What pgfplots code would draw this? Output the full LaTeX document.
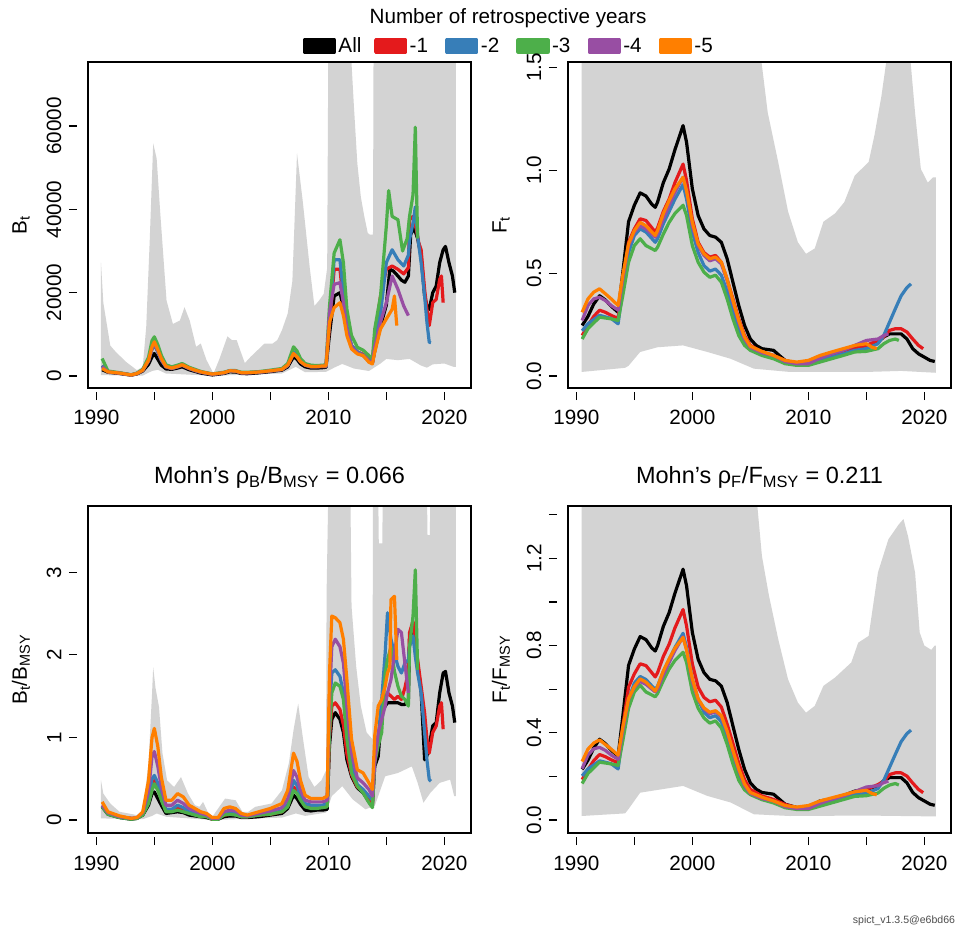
\documentclass[border=0pt]{standalone}
\usepackage{fontspec}
\setmainfont{Liberation Sans}
\usepackage{pgfplots}
\pgfplotsset{compat=1.18}

\definecolor{cAll}{HTML}{000000}
\definecolor{cA}{HTML}{E41A1C}
\definecolor{cB}{HTML}{377EB8}
\definecolor{cC}{HTML}{4DAF4A}
\definecolor{cD}{HTML}{984EA3}
\definecolor{cE}{HTML}{FF7F00}
\definecolor{band}{HTML}{D3D3D3}

\newcommand{\txt}{\fontsize{14.7}{17}\selectfont}

\pgfplotsset{
  retro/.style={
    scale only axis, width=95.75mm,
    xmin=1989.28, xmax=2022.30,
    axis on top,
    axis line style={line width=0.45mm},
    font=\txt,
    scaled x ticks=false, scaled y ticks=false,
    xtick={1990,1995,2000,2005,2010,2015,2020},
    xticklabels={1990,,2000,,2010,,2020},
    tick pos=left,
    tick align=outside,
    major tick length=2.1mm,
    tick style={black, line width=0.3mm},
    xtick style={yshift=-0.95mm},
    ytick style={xshift=-2.7mm},
    xticklabel style={yshift=-2.3mm},
    yticklabel style={rotate=90, anchor=south},
    yticklabel shift=3.3mm,
    ylabel style={at={(rel axis cs:-0.175,0.5)}, anchor=center},
    title style={at={(rel axis cs:0.5,1.043)}, anchor=base, font=\fontsize{16.7}{19}\selectfont},
  },
  ser/.style={line width=0.8mm, line join=round},
}

\begin{document}
\begin{tikzpicture}
\useasboundingbox (0,0) rectangle (240.5mm,232.5mm);

% ---------------- B_t ----------------
\begin{axis}[retro, at={(22mm,135.5mm)}, anchor=south west, height=81.5mm,
  ymin=-2880, ymax=75360,
  ytick={0,20000,40000,60000}, yticklabels={0,20000,40000,60000},
  ylabel={B\textsubscript{t}},
  legend columns=6,
  legend style={at={(rel axis cs:0.561,1.049)}, anchor=west, draw=none, fill=none,
    inner sep=0pt, outer sep=0pt, font=\txt,
    nodes={inner sep=0.6mm, anchor=west},
    /tikz/every even column/.append style={column sep=0mm}},
  legend image code/.code={\fill[#1] (0mm,-1.5mm) rectangle (7.5mm,1.5mm);},
]
\addplot[fill=band, draw=none, forget plot] coordinates {
(1990.4,27200) (1990.6,17600) (1991.2,7300) (1991.7,5700) (1992.6,3300) (1993.5,1400)
(1994,2200) (1994.3,11800) (1994.6,32400) (1994.9,55800) (1995.2,52200) (1995.5,39500)
(1996.05,18100) (1996.6,12500) (1997.2,13300) (1997.6,16500) (1998.05,13300) (1998.6,7000)
(1999,7800) (1999.5,3800) (2000.1,600) (2000.6,4000) (2001.3,9500) (2001.7,8600) (2002.1,8600)
(2002.4,6200) (2002.8,3100) (2003.3,4600) (2003.9,6200) (2004.5,7800) (2005.2,7800)
(2005.6,8600) (2006.0,11000) (2006.5,15000) (2006.9,22800) (2007.3,53400) (2007.8,41800)
(2008.4,25900) (2008.8,16800) (2009.2,18100) (2009.6,19700) (2009.9,25900) (2010.0,80000)
(2011.9,80000) (2012.2,65000) (2012.5,51000) (2012.8,43000) (2013.1,38300) (2013.4,34300)
(2013.6,33900) (2013.85,33900) (2013.9,80000) (2021,80000)
(2021,2200) (2020.8,2200) (2020,3000) (2019,2800) (2018.5,2000) (2018,2500) (2017,4100)
(2016,3800) (2015,4100) (2014.5,3000) (2013.5,1200) (2012.2,1800) (2011.2,2900) (2010.5,2000)
(2009.8,1000) (2008,900) (2007.2,2200) (2006,600) (2000,50) (1996,600) (1995.3,1500)
(1994.8,1200) (1994,100) (1990.4,200)};
\addplot[ser, color=cAll] coordinates {
(1990.5,1500) (1991,900) (1992,600) (1993,200) (1993.5,500) (1994,1200) (1994.5,2800)
(1994.8,4600) (1995,5400) (1995.3,4000) (1995.6,2600) (1996,1700) (1996.5,1600) (1997,1900)
(1997.4,2200) (1998,1500) (1998.5,1100) (1999,700) (2000,250) (2001,600) (2001.5,1000)
(2002,950) (2002.5,600) (2003,550) (2004,750) (2005,1050) (2006,1400) (2006.5,2200)
(2007,4600) (2007.3,4000) (2007.6,2900) (2008,2200) (2008.5,1900) (2009,1900) (2009.5,2000)
(2009.8,2100) (2010.1,10000) (2010.5,19200) (2011,20000) (2011.3,16500) (2011.6,10500)
(2012,7000) (2012.5,5500) (2013,5000) (2013.5,3600) (2013.8,3200) (2014,6000) (2014.5,12000)
(2015,17000) (2015.3,25600) (2015.6,25200) (2016,24000) (2016.3,23000) (2016.6,22500)
(2016.9,24000) (2017.1,34000) (2017.4,35500) (2017.7,33000) (2018,28700) (2018.3,19200)
(2018.5,16800) (2018.7,16000) (2019,20000) (2019.3,21600) (2019.6,27200) (2019.9,30300)
(2020.1,31100) (2020.4,27200) (2020.7,24000) (2020.9,20000)};
\addplot[ser, color=cA] coordinates {
(1990.5,2500) (1991,1000) (1992,700) (1993,250) (1993.5,600) (1994,1400) (1994.5,3600)
(1994.8,6500) (1995,7500) (1995.3,5800) (1995.6,3800) (1996,2200) (1996.5,1800) (1997,2200)
(1997.4,2600) (1998,1800) (1998.5,1300) (1999,900) (2000,400) (2001,750) (2001.5,1200)
(2002,1150) (2002.5,750) (2003,750) (2004,900) (2005,1200) (2006,1550) (2006.5,2500)
(2007,5800) (2007.3,5000) (2007.6,3500) (2008,2600) (2008.5,2200) (2009,2200) (2009.5,2300)
(2009.8,2300) (2010.1,12000) (2010.5,25600) (2011,25600) (2011.3,18000) (2011.6,11000)
(2012,7300) (2012.5,5800) (2013,5200) (2013.5,3800) (2013.8,3300) (2014,9500) (2014.5,19200)
(2015,25600) (2015.5,26400) (2016,25600) (2016.5,24500) (2016.9,26000) (2017,37500)
(2017.3,38300) (2017.6,35000) (2017.8,31900) (2018,30300) (2018.3,20800) (2018.5,16000)
(2018.7,12100) (2019,17600) (2019.3,18400) (2019.6,23200) (2019.75,24000) (2019.9,17600)};
\addplot[ser, color=cB] coordinates {
(1990.5,2500) (1991,1000) (1992,700) (1993,250) (1993.5,600) (1994,1400) (1994.5,3600)
(1994.8,6500) (1995,7500) (1995.3,5800) (1995.6,3800) (1996,2200) (1996.5,1800) (1997,2200)
(1997.4,2600) (1998,1800) (1998.5,1300) (1999,900) (2000,400) (2001,750) (2001.5,1200)
(2002,1150) (2002.5,750) (2003,750) (2004,900) (2005,1200) (2006,1550) (2006.5,2500)
(2007,5800) (2007.3,5000) (2007.6,3500) (2008,2600) (2008.5,2200) (2009,2200) (2009.5,2300)
(2009.8,2300) (2010.1,13000) (2010.5,27900) (2011,27900) (2011.3,20000) (2011.6,12000)
(2012,7300) (2012.5,5800) (2013,5000) (2013.5,3800) (2013.8,3300) (2014,9000) (2014.5,15000)
(2015,27200) (2015.5,30300) (2016,27900) (2016.5,26400) (2016.9,29000) (2017,32700)
(2017.3,36700) (2017.5,40600) (2017.7,33500) (2018,27200) (2018.3,19200) (2018.5,12900)
(2018.7,8100) (2018.85,8000)};
\addplot[ser, color=cC] coordinates {
(1990.5,4200) (1991,1200) (1992,800) (1993,300) (1993.5,700) (1994,1600) (1994.5,4500)
(1994.8,8500) (1995,9400) (1995.3,7500) (1995.6,5000) (1996,2700) (1996.5,2200) (1997,2600)
(1997.4,3000) (1998,2100) (1998.5,1600) (1999,1100) (2000,500) (2001,900) (2001.5,1300)
(2002,1300) (2002.5,900) (2003,900) (2004,1050) (2005,1400) (2006,1800) (2006.5,3000)
(2007,7000) (2007.3,6000) (2007.6,4200) (2008,3000) (2008.5,2600) (2009,2500) (2009.5,2600)
(2009.8,2700) (2010.1,16800) (2010.5,29500) (2011,32700) (2011.3,27200) (2011.6,16000)
(2012,9700) (2012.5,6900) (2013,6200) (2013.5,4900) (2013.8,4100) (2014,11300) (2014.5,19200)
(2015,36000) (2015.2,44500) (2015.5,38300) (2016,37500) (2016.4,30000) (2016.8,33000)
(2017,38300) (2017.3,43500) (2017.5,59700) (2017.6,45000) (2017.7,33000)};
\addplot[ser, color=cD] coordinates {
(1990.5,2200) (1991,1000) (1992,700) (1993,250) (1993.5,600) (1994,1400) (1994.5,3700)
(1994.8,6800) (1995,7900) (1995.3,6100) (1995.6,4000) (1996,2250) (1996.5,1850) (1997,2250)
(1997.4,2650) (1998,1850) (1998.5,1350) (1999,950) (2000,420) (2001,780) (2001.5,1250)
(2002,1200) (2002.5,780) (2003,780) (2004,930) (2005,1230) (2006,1580) (2006.5,2600)
(2007,5300) (2007.3,4600) (2007.6,3400) (2008,2600) (2008.5,2250) (2009,2250) (2009.5,2350)
(2009.8,2350) (2010.1,15200) (2010.5,22000) (2011,22400) (2011.3,17600) (2011.6,11300)
(2012,7000) (2012.5,5500) (2013,4900) (2013.5,3600) (2013.8,3100) (2014,7000) (2014.5,12900)
(2015,17600) (2015.5,24000) (2016,20800) (2016.5,16800) (2016.9,14500)};
\addplot[ser, color=cE] coordinates {
(1990.5,1800) (1991,1000) (1992,700) (1993,250) (1993.5,600) (1994,1400) (1994.5,3800)
(1994.8,7000) (1995,8200) (1995.3,6300) (1995.6,4200) (1996,2300) (1996.5,1900) (1997,2300)
(1997.4,2700) (1998,1900) (1998.5,1400) (1999,1000) (2000,450) (2001,800) (2001.5,1250)
(2002,1200) (2002.5,800) (2003,800) (2004,950) (2005,1250) (2006,1600) (2006.5,2650)
(2007,5400) (2007.3,4600) (2007.6,3450) (2008,2650) (2008.5,2300) (2009,2300) (2009.5,2400)
(2009.8,2400) (2010.1,12900) (2010.5,16400) (2011,17600) (2011.3,14500) (2011.6,9700)
(2012,6500) (2012.5,5300) (2013,4900) (2013.5,3300) (2013.8,2900) (2014,5700) (2014.5,11300)
(2015,13700) (2015.5,16000) (2015.7,19200) (2015.9,12100)};
\legend{\makebox[8.3mm][l]{All},\makebox[8.3mm][l]{-1},\makebox[8.3mm][l]{-2},
        \makebox[8.3mm][l]{-3},\makebox[8.3mm][l]{-4},\makebox[8.3mm][l]{-5}}
\draw[line width=0.3mm] ([yshift=-0.95mm]rel axis cs:0.0218,0) -- ([yshift=-0.95mm]rel axis cs:0.9303,0);
\draw[line width=0.3mm] ([xshift=-2.7mm]rel axis cs:0,0.0368) -- ([xshift=-2.7mm]rel axis cs:0,0.8037);
\end{axis}

% ---------------- F_t ----------------
\begin{axis}[retro, at={(142mm,135.5mm)}, anchor=south west, height=81.5mm,
  ymin=-0.058, ymax=1.526,
  ytick={0,0.5,1,1.5}, yticklabels={0.0,0.5,1.0,1.5},
  ylabel={F\textsubscript{t}},
]
\addplot[fill=band, draw=none] coordinates {
(1990.45,1.6) (2005.8,1.6) (2006.5,1.28) (2007.4,1.04) (2008.25,0.80) (2009.1,0.65)
(2009.8,0.594) (2010.55,0.62) (2011.3,0.75) (2012.3,0.79) (2013.1,0.845) (2014,0.974)
(2015.2,1.04) (2015.7,1.17) (2016.3,1.36) (2016.9,1.6) (2018.7,1.6) (2019.2,1.28)
(2019.7,1.006) (2020.3,0.94) (2020.75,0.966) (2021.0,0.966)
(2021,0.016) (2018,0.025) (2015,0.02) (2008.4,0.02) (2005.3,0.036) (2003.3,0.084)
(2001.3,0.117) (1999.2,0.149) (1997,0.14) (1995.5,0.117) (1994.5,0.05) (1994.2,0.04)
(1990.45,0.02)};
\addplot[ser, color=cAll] coordinates {
(1990.5,0.246) (1991,0.29) (1991.5,0.35) (1992,0.39) (1992.5,0.37) (1993,0.34) (1993.6,0.31)
(1994,0.50) (1994.5,0.75) (1995,0.83) (1995.5,0.89) (1996,0.875) (1996.5,0.835) (1996.8,0.82)
(1997,0.845) (1997.5,0.94) (1998,1.006) (1998.5,1.10) (1999.2,1.217) (1999.5,1.136)
(2000,0.91) (2000.5,0.78) (2001,0.715) (2001.5,0.683) (2002,0.675) (2002.5,0.65) (2003,0.57)
(2003.5,0.456) (2004,0.343) (2004.5,0.246) (2005,0.18) (2005.5,0.149) (2006,0.133)
(2007,0.125) (2007.5,0.10) (2008,0.076) (2009,0.06) (2010,0.06) (2011,0.092) (2012,0.10)
(2013,0.117) (2014,0.14) (2015,0.149) (2016,0.165) (2016.5,0.19) (2017,0.205) (2018,0.205)
(2018.5,0.18) (2019,0.133) (2019.5,0.108) (2020,0.092) (2020.5,0.076) (2020.9,0.071)};
\addplot[ser, color=cA] coordinates {
(1990.5,0.197) (1991,0.246) (1991.5,0.29) (1992,0.32) (1992.5,0.31) (1993,0.295) (1993.6,0.28)
(1994,0.456) (1994.5,0.65) (1995,0.715) (1995.5,0.764) (1996,0.756) (1996.8,0.70) (1997,0.72)
(1997.5,0.80) (1998,0.86) (1998.5,0.94) (1999.2,1.03) (1999.5,0.95) (2000,0.764) (2000.5,0.65)
(2001,0.60) (2001.5,0.578) (2002,0.586) (2002.5,0.553) (2003,0.47) (2003.5,0.375) (2004,0.278)
(2004.5,0.197) (2005,0.149) (2006,0.117) (2007,0.10) (2008,0.076) (2009,0.06) (2010,0.06)
(2011,0.084) (2012,0.10) (2013,0.117) (2014,0.133) (2015,0.149) (2016,0.173) (2016.5,0.19)
(2017,0.222) (2017.5,0.23) (2018,0.23) (2018.5,0.214) (2019,0.18) (2019.5,0.149) (2019.9,0.133)};
\addplot[ser, color=cB] coordinates {
(1990.5,0.22) (1991,0.254) (1992,0.295) (1993,0.28) (1993.6,0.254) (1994,0.424) (1994.5,0.60)
(1995,0.683) (1995.5,0.715) (1996,0.70) (1996.8,0.65) (1997,0.667) (1997.5,0.74) (1998,0.80)
(1998.5,0.86) (1999.2,0.93) (1999.5,0.86) (2000,0.70) (2000.5,0.60) (2001,0.537) (2001.5,0.51)
(2002,0.52) (2002.5,0.49) (2003,0.41) (2003.5,0.31) (2004,0.23) (2004.5,0.165) (2005,0.133)
(2006,0.108) (2007,0.092) (2008,0.068) (2009,0.06) (2010,0.06) (2011,0.076) (2012,0.092)
(2013,0.108) (2014,0.125) (2015,0.133) (2016,0.157) (2016.5,0.197) (2017,0.262) (2017.5,0.327)
(2018,0.39) (2018.5,0.43) (2018.85,0.448)};
\addplot[ser, color=cC] coordinates {
(1990.5,0.18) (1991,0.23) (1992,0.286) (1993,0.278) (1993.6,0.27) (1994,0.39) (1994.5,0.553)
(1995,0.634) (1995.5,0.667) (1996,0.634) (1996.8,0.61) (1997,0.626) (1997.5,0.69) (1998,0.747)
(1998.5,0.79) (1999.2,0.83) (1999.5,0.78) (2000,0.634) (2000.5,0.553) (2001,0.505) (2001.5,0.48)
(2002,0.49) (2002.5,0.456) (2003,0.375) (2003.5,0.278) (2004,0.197) (2004.5,0.149) (2005,0.125)
(2006,0.10) (2007,0.084) (2008,0.06) (2009,0.052) (2010,0.052) (2011,0.068) (2012,0.084)
(2013,0.10) (2014,0.117) (2015,0.12) (2016,0.133) (2016.5,0.157) (2017,0.173) (2017.5,0.18)
(2017.8,0.173)};
\addplot[ser, color=cD] coordinates {
(1990.5,0.27) (1991,0.343) (1991.5,0.375) (1992,0.383) (1992.5,0.367) (1993,0.343) (1993.6,0.32)
(1994,0.47) (1994.5,0.634) (1995,0.70) (1995.5,0.73) (1996,0.715) (1996.8,0.675) (1997,0.69)
(1997.5,0.764) (1998,0.83) (1998.5,0.893) (1999.2,0.966) (1999.5,0.90) (2000,0.73) (2000.5,0.634)
(2001,0.586) (2001.5,0.56) (2002,0.57) (2002.5,0.545) (2003,0.464) (2003.5,0.36) (2004,0.262)
(2004.5,0.18) (2005,0.14) (2006,0.113) (2007,0.10) (2008,0.07) (2009,0.06) (2010,0.06)
(2011,0.087) (2012,0.108) (2013,0.125) (2014,0.149) (2015,0.173) (2016,0.18) (2016.5,0.197)
(2016.9,0.205)};
\addplot[ser, color=cE] coordinates {
(1990.5,0.31) (1991,0.375) (1991.5,0.408) (1992,0.424) (1992.5,0.40) (1993,0.375) (1993.6,0.343)
(1994,0.49) (1994.5,0.642) (1995,0.707) (1995.5,0.747) (1996,0.73) (1996.8,0.683) (1997,0.707)
(1997.5,0.79) (1998,0.853) (1998.5,0.91) (1999.2,0.966) (1999.5,0.90) (2000,0.747) (2000.5,0.642)
(2001,0.594) (2001.5,0.57) (2002,0.578) (2002.5,0.553) (2003,0.47) (2003.5,0.367) (2004,0.27)
(2004.5,0.19) (2005,0.145) (2006,0.12) (2007,0.10) (2008,0.076) (2009,0.068) (2010,0.076)
(2011,0.10) (2012,0.117) (2013,0.133) (2014,0.149) (2015,0.157) (2015.5,0.14) (2015.9,0.133)};
\draw[line width=0.3mm] ([yshift=-0.95mm]rel axis cs:0.0218,0) -- ([yshift=-0.95mm]rel axis cs:0.9303,0);
\draw[line width=0.3mm] ([xshift=-2.7mm]rel axis cs:0,0.0366) -- ([xshift=-2.7mm]rel axis cs:0,0.9836);
\end{axis}

% ---------------- B_t / B_MSY ----------------
\begin{axis}[retro, at={(22mm,24.25mm)}, anchor=south west, height=81.75mm,
  ymin=-0.157, ymax=3.803,
  ytick={0,1,2,3}, yticklabels={0,1,2,3},
  ylabel={B\textsubscript{t}/B\textsubscript{MSY}},
  title={Mohn's ρ\textsubscript{B}/B\textsubscript{MSY} = 0.066},
]
\addplot[fill=band, draw=none] coordinates {
(1990.4,0.48) (1990.6,0.32) (1991.2,0.20) (1992,0.10) (1993.5,0.06) (1994,0.12) (1994.5,0.69)
(1994.8,1.53) (1994.9,1.85) (1995.1,1.60) (1995.4,1.37) (1995.7,0.81) (1996.1,0.48)
(1996.7,0.40) (1997.3,0.52) (1997.9,0.32) (1998.5,0.18) (1998.9,0.16) (1999.2,0.22)
(1999.6,0.10) (2000,0.04) (2001.1,0.26) (2002,0.24) (2002.6,0.10) (2003.1,0.10) (2003.7,0.16)
(2005.1,0.20) (2006,0.36) (2006.6,0.69) (2007,1.09) (2007.4,1.41) (2007.8,1.0) (2008.3,0.52)
(2008.8,0.40) (2009.4,0.48) (2009.8,0.60) (2009.85,2.75) (2010.0,4.0) (2011.9,4.0)
(2012.0,2.59) (2012.4,1.86) (2012.8,1.38) (2013.3,1.06) (2013.8,0.98) (2013.85,4.0)
(2014.3,4.0) (2014.35,3.35) (2014.65,3.35) (2014.7,4.0) (2018.5,4.0) (2018.55,3.45)
(2018.75,3.45) (2018.8,4.0) (2021.0,4.0)
(2021.0,0.29) (2020.85,0.29) (2020.5,0.49) (2019.6,0.45) (2018.8,0.33) (2018.2,0.21)
(2017.7,0.45) (2017.2,0.65) (2016,0.57) (2014.9,0.53) (2014,0.17) (2013.2,0.13) (2012.1,0.25)
(2011.2,0.41) (2010.3,0.29) (2009.8,0.09) (2008,0.05) (2007.2,0.08) (2006,0.03) (2000,0.0)
(1996,0.04) (1995.2,0.08) (1994.8,0.05) (1994,0.01) (1990.4,0.02)};
\addplot[ser, color=cAll] coordinates {
(1990.5,0.16) (1991,0.07) (1992,0.03) (1993,0.01) (1993.5,0.02) (1994,0.06) (1994.5,0.18)
(1994.8,0.32) (1995,0.34) (1995.3,0.26) (1995.6,0.18) (1996,0.08) (1996.5,0.09) (1997,0.10)
(1997.5,0.09) (1998,0.06) (1998.5,0.05) (1999,0.04) (1999.5,0.03) (2000,0.01) (2000.5,0.01)
(2001,0.04) (2001.5,0.05) (2002,0.05) (2002.5,0.03) (2003,0.03) (2004,0.04) (2005,0.06)
(2006,0.08) (2006.5,0.14) (2007,0.30) (2007.3,0.26) (2007.6,0.19) (2008,0.12) (2008.5,0.11)
(2009,0.12) (2009.5,0.12) (2009.9,0.13) (2010.1,0.90) (2010.3,1.22) (2010.6,1.30) (2011,1.22)
(2011.3,1.06) (2011.6,0.73) (2012,0.53) (2012.5,0.39) (2013,0.33) (2013.5,0.22) (2013.8,0.18)
(2014,0.65) (2014.3,0.77) (2014.6,1.30) (2014.9,1.38) (2015.1,1.42) (2015.7,1.42) (2016,1.42)
(2016.3,1.40) (2016.6,1.40) (2016.9,1.45) (2017,2.19) (2017.3,2.30) (2017.6,2.0) (2018,1.55)
(2018.3,0.73) (2018.5,0.78) (2018.7,0.90) (2019,1.14) (2019.3,1.18) (2019.6,1.54) (2019.9,1.78)
(2020.1,1.80) (2020.4,1.54) (2020.7,1.38) (2020.9,1.18)};
\addplot[ser, color=cA] coordinates {
(1990.5,0.17) (1991,0.08) (1992,0.04) (1993,0.02) (1993.5,0.02) (1994,0.07) (1994.5,0.22)
(1994.8,0.42) (1995,0.48) (1995.3,0.40) (1995.6,0.26) (1996,0.11) (1996.5,0.11) (1997,0.15)
(1997.5,0.12) (1998,0.09) (1998.5,0.07) (1999,0.05) (1999.5,0.05) (2000,0.01) (2000.5,0.02)
(2001,0.06) (2001.5,0.07) (2002,0.07) (2002.5,0.04) (2003,0.04) (2004,0.06) (2005,0.07)
(2006,0.10) (2006.5,0.17) (2007,0.40) (2007.3,0.36) (2007.6,0.26) (2008,0.17) (2008.5,0.15)
(2009,0.15) (2009.5,0.16) (2009.9,0.17) (2010.1,1.0) (2010.3,1.38) (2010.6,1.42) (2011,1.34)
(2011.3,1.15) (2011.6,0.80) (2012,0.55) (2012.5,0.40) (2013,0.35) (2013.5,0.25) (2013.8,0.20)
(2014,0.80) (2014.3,0.95) (2014.6,1.38) (2014.9,1.46) (2015.1,1.54) (2015.4,1.50) (2015.7,1.46)
(2016,1.50) (2016.3,1.46) (2016.6,1.60) (2016.9,1.80) (2017,2.27) (2017.3,2.41) (2017.5,2.15)
(2017.7,1.94) (2018,1.62) (2018.3,1.30) (2018.5,0.98) (2018.7,0.81) (2019,1.06) (2019.3,1.14)
(2019.6,1.38) (2019.75,1.42) (2019.9,1.10)};
\addplot[ser, color=cB] coordinates {
(1990.5,0.17) (1991,0.08) (1992,0.04) (1993,0.02) (1993.5,0.02) (1994,0.08) (1994.5,0.25)
(1994.8,0.50) (1995,0.54) (1995.3,0.45) (1995.6,0.28) (1996,0.13) (1996.5,0.13) (1997,0.18)
(1997.5,0.15) (1998,0.10) (1998.5,0.08) (1999,0.06) (1999.5,0.05) (2000,0.02) (2000.5,0.02)
(2001,0.07) (2001.5,0.08) (2002,0.08) (2002.5,0.04) (2003,0.04) (2004,0.06) (2005,0.08)
(2006,0.11) (2006.5,0.19) (2007,0.48) (2007.3,0.42) (2007.6,0.28) (2008,0.20) (2008.5,0.18)
(2009,0.18) (2009.5,0.18) (2009.9,0.20) (2010.1,1.30) (2010.3,1.78) (2010.6,1.82) (2011,1.74)
(2011.3,1.54) (2011.6,1.06) (2012,0.65) (2012.5,0.43) (2013,0.37) (2013.5,0.29) (2013.8,0.24)
(2014,0.81) (2014.3,0.98) (2014.6,1.46) (2014.9,2.02) (2015.1,2.51) (2015.4,2.19) (2015.7,2.02)
(2016,1.86) (2016.3,1.78) (2016.6,1.90) (2016.9,1.94) (2017,2.10) (2017.3,2.23) (2017.5,1.98)
(2017.7,1.78) (2018,1.54) (2018.3,1.06) (2018.5,0.73) (2018.7,0.49) (2018.85,0.47)};
\addplot[ser, color=cC] coordinates {
(1990.5,0.16) (1991,0.07) (1992,0.03) (1993,0.01) (1993.5,0.02) (1994,0.06) (1994.5,0.20)
(1994.8,0.36) (1995,0.44) (1995.3,0.36) (1995.6,0.24) (1996,0.10) (1996.5,0.10) (1997,0.12)
(1997.5,0.10) (1998,0.08) (1998.5,0.06) (1999,0.04) (1999.5,0.04) (2000,0.01) (2000.5,0.01)
(2001,0.06) (2001.5,0.07) (2002,0.06) (2002.5,0.04) (2003,0.04) (2004,0.06) (2005,0.07)
(2006,0.10) (2006.5,0.16) (2007,0.36) (2007.3,0.32) (2007.6,0.24) (2008,0.16) (2008.5,0.14)
(2009,0.14) (2009.5,0.15) (2009.9,0.16) (2010.1,1.06) (2010.3,1.54) (2010.6,1.66) (2011,1.62)
(2011.3,1.46) (2011.6,0.98) (2012,0.57) (2012.5,0.41) (2013,0.33) (2013.5,0.21) (2013.8,0.15)
(2014,0.69) (2014.3,0.90) (2014.6,1.06) (2014.9,1.78) (2015.1,1.94) (2015.4,2.10) (2015.7,1.80)
(2016,1.62) (2016.3,1.50) (2016.6,1.46) (2016.9,1.38) (2017,2.10) (2017.3,2.47) (2017.5,3.03)
(2017.6,2.40) (2017.7,1.82)};
\addplot[ser, color=cD] coordinates {
(1990.5,0.18) (1991,0.09) (1992,0.04) (1993,0.02) (1993.5,0.03) (1994,0.09) (1994.5,0.35)
(1994.8,0.77) (1995,0.83) (1995.3,0.65) (1995.6,0.40) (1996,0.18) (1996.5,0.18) (1997,0.24)
(1997.5,0.20) (1998,0.14) (1998.5,0.11) (1999,0.08) (1999.5,0.06) (2000,0.02) (2000.5,0.02)
(2001,0.10) (2001.5,0.12) (2002,0.11) (2002.5,0.06) (2003,0.05) (2004,0.08) (2005,0.11)
(2006,0.15) (2006.5,0.26) (2007,0.60) (2007.3,0.52) (2007.6,0.36) (2008,0.24) (2008.5,0.22)
(2009,0.22) (2009.5,0.22) (2009.9,0.24) (2010.1,1.46) (2010.3,2.10) (2010.6,2.19) (2011,2.10)
(2011.3,1.90) (2011.6,1.38) (2012,0.81) (2012.5,0.51) (2013,0.45) (2013.5,0.37) (2013.8,0.29)
(2014,0.69) (2014.3,1.06) (2014.6,1.22) (2014.9,1.38) (2015.1,1.54) (2015.4,1.70) (2015.7,2.02)
(2016,2.31) (2016.3,2.27) (2016.6,1.90) (2016.9,1.54)};
\addplot[ser, color=cE] coordinates {
(1990.5,0.22) (1991,0.10) (1992,0.05) (1993,0.02) (1993.5,0.03) (1994,0.10) (1994.5,0.48)
(1994.8,1.00) (1995,1.11) (1995.3,0.89) (1995.6,0.52) (1996,0.24) (1996.5,0.24) (1997,0.32)
(1997.5,0.28) (1998,0.18) (1998.5,0.14) (1999,0.10) (1999.5,0.08) (2000,0.03) (2000.5,0.03)
(2001,0.14) (2001.5,0.16) (2002,0.14) (2002.5,0.08) (2003,0.06) (2004,0.10) (2005,0.14)
(2006,0.20) (2006.5,0.36) (2007,0.81) (2007.3,0.71) (2007.6,0.48) (2008,0.30) (2008.5,0.26)
(2009,0.26) (2009.5,0.26) (2009.9,0.29) (2010.1,1.78) (2010.3,2.47) (2010.6,2.45) (2011,2.39)
(2011.3,2.19) (2011.6,1.70) (2012,0.98) (2012.5,0.61) (2013,0.57) (2013.5,0.45) (2013.8,0.37)
(2014,1.02) (2014.3,1.38) (2014.6,1.46) (2014.9,1.62) (2015.1,1.78) (2015.3,1.85) (2015.4,2.67)
(2015.7,2.71) (2015.9,1.94)};
\draw[line width=0.3mm] ([yshift=-0.95mm]rel axis cs:0.0218,0) -- ([yshift=-0.95mm]rel axis cs:0.9303,0);
\draw[line width=0.3mm] ([xshift=-2.7mm]rel axis cs:0,0.0396) -- ([xshift=-2.7mm]rel axis cs:0,0.7972);
\end{axis}

% ---------------- F_t / F_MSY ----------------
\begin{axis}[retro, at={(142mm,24.25mm)}, anchor=south west, height=81.75mm,
  ymin=-0.06, ymax=1.44,
  ytick={0,0.2,0.4,0.6,0.8,1.0,1.2,1.4}, yticklabels={0.0,,0.4,,0.8,,1.2,},
  ylabel={F\textsubscript{t}/F\textsubscript{MSY}},
  title={Mohn's ρ\textsubscript{F}/F\textsubscript{MSY} = 0.211},
]
\addplot[fill=band, draw=none] coordinates {
(1990.45,1.5) (2005.5,1.5) (2006.0,1.21) (2006.6,1.03) (2007.4,0.83) (2008.25,0.645)
(2009.1,0.538) (2009.8,0.492) (2010.55,0.523) (2011.3,0.615) (2012.3,0.653) (2013.7,0.722)
(2014.3,0.813) (2015.2,0.844) (2016.0,1.135) (2016.9,1.287) (2017.8,1.356) (2018.2,1.38)
(2018.6,1.30) (2019.2,1.135) (2019.6,0.86) (2020.0,0.80) (2020.6,0.78) (2020.9,0.80) (2021,0.80)
(2021,0.016) (2015,0.02) (2008.4,0.018) (2005.3,0.026) (2003.3,0.08) (2001.3,0.11)
(1999.2,0.156) (1995.5,0.125) (1994.5,0.05) (1994.2,0.03) (1990.45,0.018)};
\addplot[ser, color=cAll] coordinates {
(1990.5,0.232) (1991,0.274) (1991.5,0.33) (1992,0.37) (1992.5,0.35) (1993,0.32) (1993.6,0.293)
(1994,0.473) (1994.5,0.709) (1995,0.784) (1995.5,0.841) (1996,0.827) (1996.5,0.789) (1996.8,0.775)
(1997,0.799) (1997.5,0.888) (1998,0.951) (1998.5,1.040) (1999.2,1.150) (1999.5,1.074)
(2000,0.860) (2000.5,0.737) (2001,0.676) (2001.5,0.645) (2002,0.638) (2002.5,0.614) (2003,0.539)
(2003.5,0.431) (2004,0.324) (2004.5,0.232) (2005,0.170) (2005.5,0.141) (2006,0.126)
(2007,0.118) (2007.5,0.095) (2008,0.072) (2009,0.057) (2010,0.057) (2011,0.087) (2012,0.095)
(2013,0.111) (2014,0.132) (2015,0.141) (2016,0.156) (2016.5,0.180) (2017,0.194) (2018,0.194)
(2018.5,0.170) (2019,0.126) (2019.5,0.102) (2020,0.087) (2020.5,0.072) (2020.9,0.067)};
\addplot[ser, color=cA] coordinates {
(1990.5,0.185) (1991,0.231) (1991.5,0.272) (1992,0.300) (1992.5,0.290) (1993,0.276) (1993.6,0.262)
(1994,0.427) (1994.5,0.609) (1995,0.670) (1995.5,0.716) (1996,0.708) (1996.8,0.656) (1997,0.675)
(1997.5,0.750) (1998,0.806) (1998.5,0.881) (1999.2,0.965) (1999.5,0.890) (2000,0.716) (2000.5,0.609)
(2001,0.562) (2001.5,0.542) (2002,0.549) (2002.5,0.518) (2003,0.440) (2003.5,0.351) (2004,0.260)
(2004.5,0.185) (2005,0.140) (2006,0.110) (2007,0.094) (2008,0.071) (2009,0.056) (2010,0.056)
(2011,0.079) (2012,0.094) (2013,0.110) (2014,0.125) (2015,0.140) (2016,0.162) (2016.5,0.178)
(2017,0.208) (2017.5,0.216) (2018,0.216) (2018.5,0.201) (2019,0.169) (2019.5,0.140) (2019.9,0.125)};
\addplot[ser, color=cB] coordinates {
(1990.5,0.202) (1991,0.234) (1992,0.271) (1993,0.258) (1993.6,0.234) (1994,0.390) (1994.5,0.552)
(1995,0.628) (1995.5,0.658) (1996,0.644) (1996.8,0.598) (1997,0.614) (1997.5,0.681) (1998,0.736)
(1998.5,0.791) (1999.2,0.856) (1999.5,0.791) (2000,0.644) (2000.5,0.552) (2001,0.494) (2001.5,0.469)
(2002,0.478) (2002.5,0.451) (2003,0.377) (2003.5,0.285) (2004,0.212) (2004.5,0.152) (2005,0.122)
(2006,0.099) (2007,0.085) (2008,0.063) (2009,0.055) (2010,0.055) (2011,0.070) (2012,0.085)
(2013,0.099) (2014,0.115) (2015,0.122) (2016,0.144) (2016.5,0.181) (2017,0.241) (2017.5,0.301)
(2018,0.359) (2018.5,0.396) (2018.85,0.412)};
\addplot[ser, color=cC] coordinates {
(1990.5,0.167) (1991,0.213) (1992,0.265) (1993,0.257) (1993.6,0.250) (1994,0.361) (1994.5,0.512)
(1995,0.587) (1995.5,0.618) (1996,0.587) (1996.8,0.565) (1997,0.580) (1997.5,0.639) (1998,0.692)
(1998.5,0.732) (1999.2,0.769) (1999.5,0.722) (2000,0.587) (2000.5,0.512) (2001,0.468) (2001.5,0.444)
(2002,0.454) (2002.5,0.422) (2003,0.347) (2003.5,0.257) (2004,0.182) (2004.5,0.138) (2005,0.116)
(2006,0.093) (2007,0.078) (2008,0.056) (2009,0.048) (2010,0.048) (2011,0.063) (2012,0.078)
(2013,0.093) (2014,0.108) (2015,0.111) (2016,0.123) (2016.5,0.145) (2017,0.160) (2017.5,0.167)
(2017.8,0.160)};
\addplot[ser, color=cD] coordinates {
(1990.5,0.235) (1991,0.298) (1991.5,0.326) (1992,0.333) (1992.5,0.319) (1993,0.298) (1993.6,0.278)
(1994,0.409) (1994.5,0.552) (1995,0.609) (1995.5,0.635) (1996,0.622) (1996.8,0.587) (1997,0.600)
(1997.5,0.665) (1998,0.722) (1998.5,0.777) (1999.2,0.840) (1999.5,0.783) (2000,0.635) (2000.5,0.552)
(2001,0.510) (2001.5,0.487) (2002,0.496) (2002.5,0.474) (2003,0.404) (2003.5,0.313) (2004,0.228)
(2004.5,0.157) (2005,0.122) (2006,0.098) (2007,0.087) (2008,0.061) (2009,0.052) (2010,0.052)
(2011,0.076) (2012,0.094) (2013,0.109) (2014,0.130) (2015,0.151) (2016,0.157) (2016.5,0.171)
(2016.9,0.178)};
\addplot[ser, color=cE] coordinates {
(1990.5,0.268) (1991,0.325) (1991.5,0.353) (1992,0.367) (1992.5,0.346) (1993,0.325) (1993.6,0.297)
(1994,0.424) (1994.5,0.556) (1995,0.612) (1995.5,0.647) (1996,0.632) (1996.8,0.591) (1997,0.612)
(1997.5,0.684) (1998,0.739) (1998.5,0.788) (1999.2,0.837) (1999.5,0.779) (2000,0.647) (2000.5,0.556)
(2001,0.514) (2001.5,0.494) (2002,0.501) (2002.5,0.479) (2003,0.407) (2003.5,0.318) (2004,0.234)
(2004.5,0.165) (2005,0.126) (2006,0.104) (2007,0.087) (2008,0.066) (2009,0.059) (2010,0.066)
(2011,0.087) (2012,0.101) (2013,0.115) (2014,0.129) (2015,0.136) (2015.5,0.121) (2015.9,0.115)};
\draw[line width=0.3mm] ([yshift=-0.95mm]rel axis cs:0.0218,0) -- ([yshift=-0.95mm]rel axis cs:0.9303,0);
\draw[line width=0.3mm] ([xshift=-2.7mm]rel axis cs:0,0.04) -- ([xshift=-2.7mm]rel axis cs:0,0.9733);
\end{axis}

\node[anchor=base, font=\txt] at (127mm,226.5mm) {Number of retrospective years};
\node[anchor=east, font=\fontsize{7.5}{8}\selectfont, text=black!70] at (240mm,2.3mm) {spict\_v1.3.5@e6bd66};
\end{tikzpicture}
\end{document}
